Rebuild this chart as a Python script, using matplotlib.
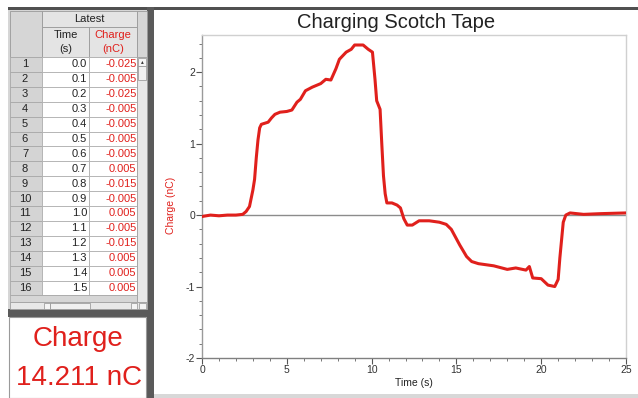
import matplotlib
matplotlib.use("Agg")
import matplotlib.pyplot as plt
from matplotlib.patches import Rectangle
from matplotlib.ticker import MultipleLocator

plt.rcParams['font.family'] = ['Liberation Sans', 'DejaVu Sans']
plt.rcParams['axes.unicode_minus'] = False

# ---------------- data ----------------
row_numbers = list(range(1, 17))
table_times = ["0.0", "0.1", "0.2", "0.3", "0.4", "0.5", "0.6", "0.7",
               "0.8", "0.9", "1.0", "1.1", "1.2", "1.3", "1.4", "1.5"]
table_charges = ["-0.025", "-0.005", "-0.025", "-0.005", "-0.005", "-0.005",
                 "-0.005", "0.005", "-0.015", "-0.005", "0.005", "-0.005",
                 "-0.015", "0.005", "0.005", "0.005"]

curve_time = [0, 0.5, 1.0, 1.5, 2.0, 2.4, 2.6, 2.8, 3.0, 3.1, 3.2, 3.3, 3.4,
              3.5, 3.9, 4.1, 4.3, 4.6, 5.0, 5.3, 5.6, 5.8, 6.1, 6.5, 7.0, 7.3,
              7.6, 7.9, 8.1, 8.5, 8.8, 9.0, 9.5, 9.8, 10.05, 10.2, 10.3, 10.5,
              10.6, 10.7, 10.8, 10.9, 11.2, 11.5, 11.7, 11.9, 12.1, 12.4, 12.8,
              13.4, 14.0, 14.4, 14.7, 15.2, 15.6, 15.9, 16.3, 17.2, 18.0, 18.5,
              19.1, 19.3, 19.5, 20.0, 20.4, 20.8, 21.0, 21.1, 21.2, 21.3, 21.45,
              21.7, 22.5, 23.5, 25.0]
curve_charge = [-0.02, 0.0, -0.01, 0.0, 0.0, 0.01, 0.05, 0.12, 0.35, 0.5, 0.8,
                1.05, 1.22, 1.27, 1.3, 1.36, 1.41, 1.44, 1.45, 1.47, 1.58, 1.62,
                1.74, 1.79, 1.84, 1.90, 1.89, 2.05, 2.18, 2.28, 2.32, 2.38, 2.38,
                2.32, 2.28, 1.9, 1.6, 1.48, 1.0, 0.55, 0.3, 0.17, 0.17, 0.14,
                0.1, -0.05, -0.14, -0.14, -0.08, -0.08, -0.1, -0.13, -0.2, -0.42,
                -0.58, -0.65, -0.68, -0.71, -0.76, -0.74, -0.77, -0.72, -0.88,
                -0.89, -0.98, -1.0, -0.9, -0.6, -0.35, -0.1, 0.0, 0.03, 0.01,
                0.02, 0.03]

title = "Charging Scotch Tape"
xlabel = "Time (s)"
ylabel = "Charge (nC)"
meter_name = "Charge"
meter_value = "14.211 nC"

RED = "#e0201c"
W, H = 638, 398

fig = plt.figure(figsize=(W / 100, H / 100), dpi=100)
fig.patch.set_facecolor("white")

# ---------- background chrome (pixel coordinates) ----------
bg = fig.add_axes([0, 0, 1, 1])
bg.set_xlim(0, W)
bg.set_ylim(H, 0)
bg.axis("off")

def rect(x0, y0, x1, y1, fc, ec="none", lw=0.0, z=1):
    bg.add_patch(Rectangle((x0, y0), x1 - x0, y1 - y0, facecolor=fc,
                           edgecolor=ec, linewidth=lw, zorder=z))

# top dark bar and vertical separator
rect(8, 7, W, 10, "#505050")
rect(147, 7, 154, H, "#5a5a5a")
# left panel gray
rect(8, 10, 147, 310, "#d6d6d6")
# separator above meter
rect(8, 309, 147, 317, "#5a5a5a")
# meter box
rect(9, 317, 146, H, "white", ec="#9a9a9a", lw=0.8)
bg.text(78, 339, meter_name, color=RED, fontsize=20, ha="center", va="center")
bg.text(79, 378, meter_value, color=RED, fontsize=20, ha="center", va="center")

# table geometry
head1 = (11, 27)
head2 = (27, 57)
row_top = 57
row_h = 14.9
FS = 8

# header cells
rect(42, head1[0], 137, head1[1], "#e4e4e4", ec="#9a9a9a", lw=0.6)
rect(42, head2[0], 89, head2[1], "#e4e4e4", ec="#9a9a9a", lw=0.6)
rect(89, head2[0], 137, head2[1], "#e4e4e4", ec="#9a9a9a", lw=0.6)
rect(10, head1[0], 42, head2[1], "#d6d6d6", ec="#9a9a9a", lw=0.6)
rect(137, head1[0], 147, head2[1], "#d6d6d6", ec="#9a9a9a", lw=0.6)
bg.text(89.5, 19.5, "Latest", fontsize=FS, ha="center", va="center", color="#222222")
bg.text(65.5, 35, "Time", fontsize=FS, ha="center", va="center", color="#222222")
bg.text(65.5, 49, "(s)", fontsize=FS, ha="center", va="center", color="#222222")
bg.text(113, 35, "Charge", fontsize=FS, ha="center", va="center", color=RED)
bg.text(113, 49, "(nC)", fontsize=FS, ha="center", va="center", color=RED)

for i, (n, t, c) in enumerate(zip(row_numbers, table_times, table_charges)):
    y0 = row_top + i * row_h
    y1 = y0 + row_h
    ym = (y0 + y1) / 2
    rect(10, y0, 42, y1, "#d4d4d4", ec="#a8a8a8", lw=0.6)
    rect(42, y0, 89, y1, "white", ec="#b0b0b0", lw=0.6)
    rect(89, y0, 137, y1, "white", ec="#b0b0b0", lw=0.6)
    bg.text(25, ym, str(n), fontsize=FS, ha="center", va="center", color="#222222")
    bg.text(87, ym, t, fontsize=FS, ha="right", va="center", color="#222222")
    bg.text(136.5, ym, c, fontsize=FS, ha="right", va="center", color=RED)

# empty row + scrollbars
last = row_top + 16 * row_h
rect(10, last, 137, 302, "#d6d6d6", ec="#a8a8a8", lw=0.6)
rect(137, 57, 147, 302, "#e8e8e8", ec="#a0a0a0", lw=0.6)
rect(138, 58, 146, 66, "#f4f4f4", ec="#909090", lw=0.5)
rect(138, 66, 146, 80, "#f0f0f0", ec="#909090", lw=0.5)
bg.text(142, 62, "\u25b4", fontsize=4, ha="center", va="center", color="#333333")
rect(10, 302, 147, 309, "#e8e8e8", ec="#a0a0a0", lw=0.6)
rect(44, 302.5, 50, 308.5, "#f4f4f4", ec="#909090", lw=0.5)
rect(50, 302.5, 90, 308.5, "#f0f0f0", ec="#909090", lw=0.5)
rect(131, 302.5, 137, 308.5, "#f4f4f4", ec="#909090", lw=0.5)
rect(139, 302.5, 146, 308.5, "#f4f4f4", ec="#909090", lw=0.5)

# bottom thin gray line of chart panel
rect(154, 394, W, H, "#d8d8d8")

# ---------------- chart ----------------
ax_l, ax_r, ax_t, ax_b = 202, 626, 35, 358
ax = fig.add_axes([ax_l / W, 1 - ax_b / H, (ax_r - ax_l) / W, (ax_b - ax_t) / H])
ax.set_facecolor("white")
ax.plot(curve_time, curve_charge, color=RED, linewidth=2.2, solid_joinstyle="round",
        zorder=3)
ax.axhline(0, color="#8c8c8c", linewidth=1.0, zorder=2)
ax.set_xlim(0, 25)
ax.set_ylim(-2, 2.52)
ax.xaxis.set_major_locator(MultipleLocator(5))
ax.xaxis.set_minor_locator(MultipleLocator(1))
ax.yaxis.set_major_locator(MultipleLocator(1))
ax.yaxis.set_minor_locator(MultipleLocator(0.2))
ax.tick_params(which="major", direction="out", length=4, width=0.8,
               colors="#555555", labelsize=7.5, labelcolor="#333333", pad=1)
ax.tick_params(which="minor", direction="out", length=2, width=0.7, colors="#777777")
for s in ("top", "right"):
    ax.spines[s].set_color("#d0d0d0")
    ax.spines[s].set_linewidth(1.0)
ax.spines["left"].set_color("#9a9a9a")
ax.spines["bottom"].set_color("#808080")
ax.spines["left"].set_linewidth(1.0)
ax.spines["bottom"].set_linewidth(1.0)

fig.text(396 / W, 1 - 23 / H, title, fontsize=14.5, ha="center",
         va="center", color="#222222")
ax.set_xlabel(xlabel, fontsize=7.5, color="#222222", labelpad=2)
fig.text(171 / W, 1 - 205 / H, ylabel, fontsize=7.5, rotation=90, ha="center",
         va="center", color=RED)

fig.savefig("out.png", dpi=100, facecolor="white")
